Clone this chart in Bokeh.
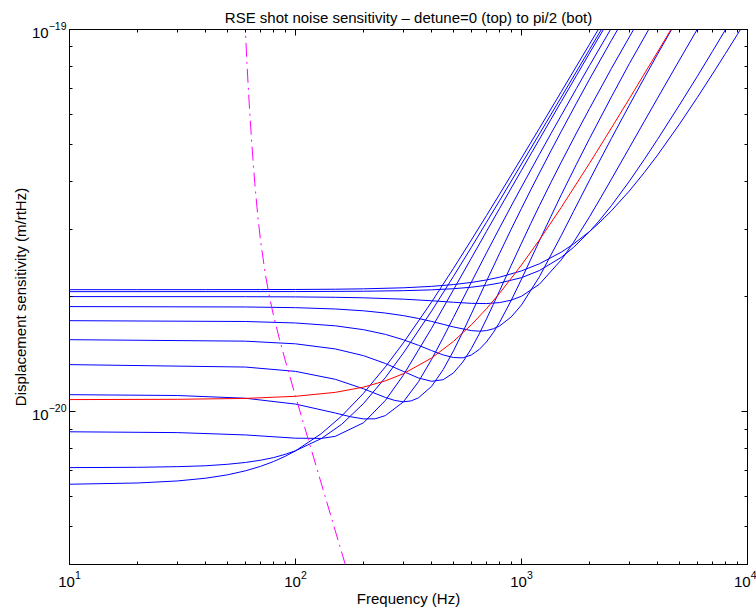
from bokeh.plotting import figure
from bokeh.models import LogAxis, FixedTicker, Range1d, CustomJSTickFormatter
from bokeh.embed import file_html
from bokeh.resources import INLINE

TITLE = "RSE shot noise sensitivity \u2013 detune=0 (top) to pi/2 (bot)"
X_LABEL = "Frequency (Hz)"
Y_LABEL = "Displacement sensitivity (m/rtHz)"

X_RANGE = (10, 10000)
Y_RANGE = (3.98e-21, 1e-19)
X_MAJOR = [10, 100, 1000, 10000]
X_MINOR = [20, 30, 40, 50, 60, 70, 80, 90,
           200, 300, 400, 500, 600, 700, 800, 900,
           2000, 3000, 4000, 5000, 6000, 7000, 8000, 9000]
Y_MAJOR = [1e-20, 1e-19]
Y_MINOR = [5e-21, 6e-21, 7e-21, 8e-21, 9e-21,
           2e-20, 3e-20, 4e-20, 5e-20, 6e-20, 7e-20, 8e-20, 9e-20]

UNIT = 1e-20  # values below are in units of 1e-20 m/rtHz

# blue curves, detune = 0 (top) ... pi/2 (bottom)
f_d0 = [10, 20, 40, 70, 100, 150, 200, 300, 400, 500, 600, 700, 800, 1000, 1200, 1500, 1700, 2000, 2200, 2500, 3000, 3500, 4000, 5000, 6000, 7000, 8000, 9000, 10000]
s_d0 = [2.085, 2.085, 2.0854, 2.0863, 2.0876, 2.0909, 2.0956, 2.1087, 2.127, 2.1502, 2.178, 2.211, 2.248, 2.335, 2.437, 2.614, 2.7457, 2.961, 3.1133, 3.354, 3.780, 4.228, 4.692, 5.653, 6.641, 7.646, 8.662, 9.685, 10.714]

f_d1 = [10, 100, 200, 300, 400, 500, 600, 700, 800, 1000, 1200, 1500, 1700, 2000, 2200, 2500, 3000, 3500, 4000, 5000, 6000, 7000, 8500, 10000]
s_d1 = [2.0602, 2.0614, 2.0654, 2.0724, 2.0828, 2.0972, 2.1163, 2.1406, 2.1706, 2.2414, 2.3396, 2.5339, 2.6909, 2.9577, 3.1517, 3.4607, 4.0071, 4.5765, 5.1593, 6.3453, 7.5430, 8.7686, 10.615, 12.466]

f_d2 = [10, 60, 100, 150, 200, 300, 400, 500, 600, 700, 800, 900, 1000, 1200, 1500, 1700, 2000, 2200, 2500, 3000, 3500, 4000, 5000, 6000, 7000]
s_d2 = [2.0000, 1.9987, 1.9962, 1.9916, 1.9854, 1.9692, 1.9504, 1.9327, 1.9203, 1.9176, 1.9289, 1.9572, 2.0042, 2.1545, 2.4954, 2.7742, 3.2352, 3.5589, 4.0573, 4.9038, 5.7573, 6.6119, 8.3192, 10.022, 11.722]

f_d3 = [10, 60, 100, 150, 200, 250, 300, 350, 400, 450, 500, 600, 650, 700, 750, 800, 900, 1000, 1200, 1500, 1700, 2000, 2200, 2500, 3000, 3500, 4000, 5000]
s_d3 = [1.8830, 1.8786, 1.8708, 1.8559, 1.8357, 1.8111, 1.7831, 1.7528, 1.7220, 1.6923, 1.6656, 1.6293, 1.6236, 1.6296, 1.6469, 1.6758, 1.7684, 1.9014, 2.2537, 2.8904, 3.3429, 4.0335, 4.4957, 5.1887, 6.3385, 7.4823, 8.6218, 10.865]

f_d4 = [10, 60, 100, 150, 200, 250, 300, 350, 400, 450, 500, 550, 600, 650, 700, 750, 800, 900, 1000, 1100, 1200, 1350, 1500, 1750, 2000, 2500, 3000, 4000]
s_d4 = [1.7297, 1.7212, 1.7059, 1.6769, 1.6383, 1.5924, 1.5420, 1.4911, 1.4444, 1.4073, 1.3852, 1.3826, 1.4067, 1.4542, 1.5222, 1.6094, 1.7125, 1.9533, 2.2215, 2.5060, 2.7994, 3.2432, 3.6944, 4.4390, 5.1827, 6.6634, 8.1390, 10.985]

f_d5 = [10, 60, 100, 150, 200, 250, 300, 350, 400, 450, 500, 550, 600, 650, 700, 750, 800, 900, 1000, 1100, 1200, 1350, 1500, 1750, 2000, 2500, 3000, 3500]
s_d5 = [1.5426, 1.5289, 1.5045, 1.4590, 1.4008, 1.3362, 1.2738, 1.2246, 1.2003, 1.2121, 1.2629, 1.3483, 1.4624, 1.5975, 1.7474, 1.9071, 2.0713, 2.4127, 2.7585, 3.1095, 3.4581, 3.9804, 4.4971, 5.3579, 6.2110, 7.9075, 9.5598, 11.204]

f_d6 = [10, 60, 100, 150, 200, 250, 275, 300, 325, 350, 400, 450, 500, 550, 600, 650, 700, 800, 900, 1000, 1100, 1200, 1350, 1500, 1750, 2000, 2500, 3000]
s_d6 = [1.3274, 1.3080, 1.2743, 1.2149, 1.1473, 1.0888, 1.0697, 1.0606, 1.0668, 1.0864, 1.1642, 1.2874, 1.4416, 1.6166, 1.8027, 1.9963, 2.1945, 2.5955, 3.0007, 3.4046, 3.8091, 4.2102, 4.8143, 5.4148, 6.4146, 7.4120, 9.3698, 11.290]

f_d7 = [10, 30, 60, 100, 150, 175, 200, 225, 250, 300, 350, 400, 450, 500, 600, 700, 800, 900, 1000, 1100, 1200, 1350, 1500, 1750, 2000, 2500, 3000]
s_d7 = [1.1074, 1.1019, 1.0840, 1.0463, 0.99163, 0.96965, 0.95696, 0.95738, 0.97634, 1.0602, 1.1971, 1.3689, 1.5606, 1.7632, 2.1812, 2.6031, 3.0262, 3.4490, 3.8714, 4.2894, 4.7113, 5.3394, 5.9621, 7.0075, 8.0480, 10.095, 12.138]

f_d8 = [10, 30, 60, 100, 130, 150, 200, 250, 300, 400, 500, 600, 700, 800, 900, 1000, 1100, 1200, 1350, 1500, 1750, 2000, 2500]
s_d8 = [0.88549, 0.88121, 0.86888, 0.85195, 0.85089, 0.86161, 0.93515, 1.0701, 1.2457, 1.6520, 2.0838, 2.5220, 2.9619, 3.4025, 3.8427, 4.2824, 4.7213, 5.1612, 5.8198, 6.4772, 7.5738, 8.6717, 10.851]

f_d9 = [10, 20, 30, 40, 50, 60, 70, 80, 90, 100, 130, 160, 200, 250, 300, 400, 500, 600, 700, 800, 1000, 1200, 1500, 2000, 2500]
s_d9 = [0.71357, 0.7149, 0.7177, 0.7215, 0.7280, 0.7360, 0.7460, 0.7580, 0.7730, 0.7900, 0.8500, 0.9260, 1.0500, 1.2280, 1.4230, 1.8330, 2.2590, 2.6920, 3.1285, 3.5670, 4.4471, 5.3293, 6.6543, 8.8651, 11.077]

f_d10 = [10, 20, 30, 40, 50, 60, 70, 80, 90, 100, 130, 160, 200, 250, 300, 400, 500, 600, 700, 800, 1000, 1200, 1500, 2000, 2500]
s_d10 = [0.6456, 0.6504, 0.6584, 0.6694, 0.6832, 0.6998, 0.7189, 0.7403, 0.7638, 0.7893, 0.8756, 0.9736, 1.1171, 1.3101, 1.5130, 1.9358, 2.3710, 2.8130, 3.2589, 3.7073, 4.6089, 5.5142, 6.8758, 9.1501, 11.427]

# red reference curve
f_ref = [10, 30, 60, 100, 150, 200, 250, 300, 400, 500, 600, 700, 800, 1000, 1200, 1500, 2000, 2500, 3000, 4000, 5000]
s_ref = [1.0752, 1.0770, 1.0828, 1.0966, 1.1231, 1.1591, 1.2038, 1.2563, 1.3810, 1.5264, 1.6872, 1.8594, 2.0401, 2.4193, 2.8142, 3.4241, 4.4660, 5.5240, 6.5902, 8.7358, 10.890]

# magenta dash-dot curve
f_wall = [59.5, 60.1, 61.0, 62.0, 62.8, 64.0, 66.0, 68.0, 70.0, 73.6, 77.0, 80.0, 85.0, 90.0, 100, 110, 120, 135, 150, 166.4, 175]
s_wall = [10.79, 9.8, 8.11, 6.83, 6.02, 5.07, 3.98, 3.28, 2.81, 2.28, 1.974, 1.781, 1.544, 1.364, 1.097, 0.9066, 0.7618, 0.6019, 0.4876, 0.3962, 0.3582]

BLUE_F = [f_d0, f_d1, f_d2, f_d3, f_d4, f_d5, f_d6, f_d7, f_d8, f_d9, f_d10]
BLUE_S = [s_d0, s_d1, s_d2, s_d3, s_d4, s_d5, s_d6, s_d7, s_d8, s_d9, s_d10]

FONT = "Liberation Sans"

p = figure(width=756, height=613, x_axis_type="log", y_axis_type="log",
           x_range=Range1d(*X_RANGE), y_range=Range1d(*Y_RANGE),
           output_backend="svg", toolbar_location=None,
           min_border_left=69, min_border_right=9, min_border_top=29, min_border_bottom=49)

p.title.text = TITLE
p.title.align = "center"
p.title.text_font = FONT
p.title.text_font_size = "15px"
p.title.text_font_style = "normal"
p.title.text_color = "black"
p.title.standoff = 0

p.background_fill_color = "white"
p.border_fill_color = "white"
p.outline_line_color = "black"
p.outline_line_width = 1
p.grid.visible = False


def style(ax):
    ax.major_tick_in = 6
    ax.major_tick_out = 0
    ax.minor_tick_in = 3
    ax.minor_tick_out = 0
    ax.axis_line_color = "black"
    ax.major_tick_line_color = "black"
    ax.minor_tick_line_color = "black"
    ax.major_label_text_font = FONT
    ax.major_label_text_font_size = "15px"
    ax.major_label_text_color = "black"
    ax.axis_label_text_font = FONT
    ax.axis_label_text_font_size = "15px"
    ax.axis_label_text_font_style = "normal"
    ax.axis_label_text_color = "black"


xa = p.xaxis[0]
ya = p.yaxis[0]
xa.ticker = FixedTicker(ticks=X_MAJOR, minor_ticks=X_MINOR)
ya.ticker = FixedTicker(ticks=Y_MAJOR, minor_ticks=Y_MINOR)
style(xa)
style(ya)
xa.axis_label = X_LABEL
ya.axis_label = Y_LABEL
xa.major_label_standoff = 6
ya.major_label_standoff = 3
xa.axis_label_standoff = 0
ya.axis_label_standoff = 0

blank = CustomJSTickFormatter(code="return ' '")
top = LogAxis(ticker=FixedTicker(ticks=X_MAJOR, minor_ticks=X_MINOR), formatter=blank)
right = LogAxis(ticker=FixedTicker(ticks=Y_MAJOR, minor_ticks=Y_MINOR), formatter=blank)
for ax in (top, right):
    style(ax)
    ax.major_label_text_font_size = "1px"
    ax.major_label_standoff = 0
p.add_layout(top, "above")
p.add_layout(right, "right")

for fs, ss in zip(BLUE_F, BLUE_S):
    p.line(fs, [v * UNIT for v in ss], line_color="#0000ff", line_width=1)

p.line(f_ref, [v * UNIT for v in s_ref], line_color="#ff0000", line_width=1)
p.line(f_wall, [v * UNIT for v in s_wall], line_color="#ff00ff", line_width=1,
       line_dash="14 5 2 5")

open("out.html", "w").write(file_html(p, INLINE))
